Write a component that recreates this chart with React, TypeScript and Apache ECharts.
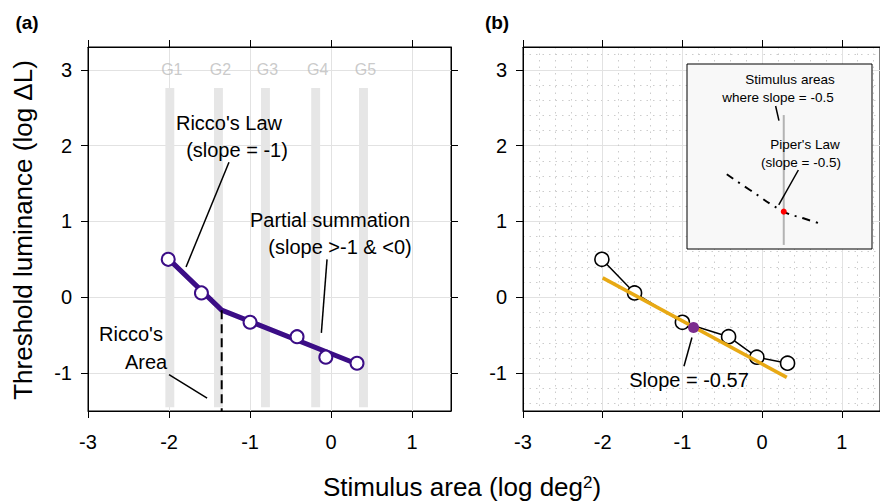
import React, { useEffect, useRef } from "react";
import * as echarts from "echarts";

const FONT = "Liberation Sans";
const INDIGO = "#3b0d86";
const ORANGE = "#e8a914";
const PURPLE = "#7b2d8e";

// axis ticks
const xTicks = [-3, -2, -1, 0, 1];
const yTicks = [-1, 0, 1, 2, 3];

// measured data (log deg^2, log dL)
const stimulusArea = [-2.01, -1.6, -1.0, -0.42, -0.065, 0.32];
const thresholdLum = [0.5, 0.057, -0.33, -0.52, -0.79, -0.87];

// two-limb fit (Ricco's law + partial summation)
const fitArea = [-2.0, -1.35, 0.32];
const fitLum = [0.5, -0.17, -0.88];
const riccoAreaX = -1.35;
const riccoAreaTopY = -0.17;

// ganglion-cell groups
const groupLabels = ["G1", "G2", "G3", "G4", "G5"];
const groupArea = [-1.99, -1.39, -0.81, -0.19, 0.4];
const groupBottom = -1.45;
const groupTop = 2.76;
const groupLabelY = 3;

// panel b linear fit
const slopeFitArea = [-2.0, 0.31];
const slopeFitLum = [0.255, -1.057];
const pivotPoint = [-0.86, -0.4];

// inset (normalised units)
const insetCurveX = [0.215, 0.34, 0.523, 0.629, 0.728];
const insetCurveY = [0.404, 0.319, 0.202, 0.166, 0.135];
const insetMarkerX = 0.523;
const insetMarkerY = 0.202;
const insetBarBottom = 0.022;
const insetBarTop = 0.724;

// annotation leader lines [x1,y1,x2,y2]
const leadersA = [
  [-1.26, 1.78, -1.79, 0.4],
  [-0.05, 0.5, -0.12, -0.47],
  [-2.0, -1.02, -1.53, -1.33],
];
const leadersB = [[-0.88, -0.53, -0.98, -0.91]];
const leadersInset = [
  [0.479, 0.773, 0.497, 0.694],
  [0.602, 0.427, 0.496, 0.238],
];

const minorX: number[] = [];
for (let i = -15; i <= 7; i++) if (i % 5 !== 0) minorX.push(+(i * 0.2).toFixed(1));
const minorY: number[] = [];
for (let i = -7; i <= 16; i++) if (i % 5 !== 0) minorY.push(+(i * 0.2).toFixed(1));

function xAxisDef(gridIndex: number, position: string, labels: boolean, split: boolean) {
  return {
    type: "value",
    gridIndex,
    position,
    min: -3,
    max: 1.48,
    axisLine: { show: true, onZero: false, lineStyle: { color: "#000", width: 1 } },
    axisTick: { show: true, inside: false, length: 7, customValues: xTicks, lineStyle: { color: "#000" } },
    axisLabel: { show: labels, customValues: xTicks, fontSize: 20, color: "#000", margin: 21, fontFamily: FONT },
    splitLine: { show: split, lineStyle: { color: "#e2e2e2", width: 1 } },
  };
}
function yAxisDef(gridIndex: number, position: string, labels: boolean, split: boolean) {
  return {
    type: "value",
    gridIndex,
    position,
    min: -1.5,
    max: 3.3,
    axisLine: { show: true, onZero: false, lineStyle: { color: "#000", width: 1 } },
    axisTick: { show: true, inside: false, length: 7, customValues: yTicks, lineStyle: { color: "#000" } },
    axisLabel: { show: labels, customValues: yTicks, fontSize: 20, color: "#000", margin: 16, fontFamily: FONT },
    splitLine: { show: split, lineStyle: { color: "#e2e2e2", width: 1 } },
  };
}

function leaderSeries(l: number[][], xi: number, yi: number, z: number) {
  return l.map((s) => ({
    type: "line",
    xAxisIndex: xi,
    yAxisIndex: yi,
    data: [
      [s[0], s[1]],
      [s[2], s[3]],
    ],
    symbol: "none",
    lineStyle: { color: "#000", width: 1.5 },
    silent: true,
    z,
  }));
}

function txt(text: string, x: number, y: number, size: number, extra: any = {}) {
  return {
    type: "text",
    x,
    y,
    z: 20,
    silent: true,
    style: {
      text,
      align: "center",
      verticalAlign: "middle",
      fontFamily: FONT,
      fontSize: size,
      fill: "#000",
      ...extra,
    },
  };
}

export default function App() {
  const ref = useRef<HTMLDivElement>(null);
  useEffect(() => {
    if (!ref.current) return;
    const chart = echarts.init(ref.current, undefined, { renderer: "svg" });
    const points = stimulusArea.map((x, i) => [x, thresholdLum[i]]);
    const option: any = {
      animation: false,
      backgroundColor: "#fff",
      textStyle: { fontFamily: FONT },
      grid: [
        { left: 88, top: 47, width: 363, height: 364, show: true, borderColor: "#000", borderWidth: 1 },
        { left: 523, top: 47, width: 363, height: 364, show: true, borderColor: "#000", borderWidth: 1 },
        { left: 687, top: 64, width: 185, height: 185, show: true, backgroundColor: "#f8f8f8", borderColor: "#000", borderWidth: 1, z: 5 },
      ],
      xAxis: [
        xAxisDef(0, "bottom", true, true),
        xAxisDef(0, "top", false, false),
        xAxisDef(1, "bottom", true, true),
        xAxisDef(1, "top", false, false),
        {
          type: "value",
          gridIndex: 1,
          min: -3,
          max: 1.48,
          axisLine: { show: false },
          axisTick: { show: false, customValues: minorX },
          axisLabel: { show: false },
          splitLine: { show: true, lineStyle: { color: "#cccccc", width: 1, type: [1.5, 5] } },
        },
        { type: "value", gridIndex: 2, min: 0, max: 1, show: false },
      ],
      yAxis: [
        yAxisDef(0, "left", true, true),
        yAxisDef(0, "right", false, false),
        yAxisDef(1, "left", true, true),
        {
          type: "value",
          gridIndex: 1,
          min: -1.5,
          max: 3.3,
          axisLine: { show: false },
          axisTick: { show: false, customValues: minorY },
          axisLabel: { show: false },
          splitLine: { show: true, lineStyle: { color: "#cccccc", width: 1, type: [1.5, 5] } },
        },
        { type: "value", gridIndex: 2, min: 0, max: 1, show: false },
      ],
      series: [
        // Panel a
        {
          type: "custom",
          xAxisIndex: 0,
          yAxisIndex: 0,
          z: 1,
          silent: true,
          data: groupArea.map((x) => [x, groupBottom, groupTop]),
          encode: { x: 0, y: [1, 2] },
          renderItem: (params: any, api: any) => {
            const x = api.value(0);
            const top = api.coord([x, api.value(2)]);
            const bot = api.coord([x, api.value(1)]);
            const w = api.size([0.11, 0])[0];
            return {
              type: "rect",
              shape: { x: top[0] - w / 2, y: top[1], width: w, height: bot[1] - top[1] },
              style: { fill: "#e6e6e6" },
            };
          },
        },
        {
          type: "scatter",
          xAxisIndex: 0,
          yAxisIndex: 0,
          z: 1,
          silent: true,
          symbolSize: 1,
          itemStyle: { color: "rgba(0,0,0,0)" },
          data: groupArea.map((x, i) => ({ value: [x, groupLabelY], name: groupLabels[i] })),
          label: { show: true, position: "inside", formatter: "{b}", color: "#bdbdbd", fontSize: 16, fontFamily: FONT, offset: [2, 0] },
        },
        {
          type: "line",
          xAxisIndex: 0,
          yAxisIndex: 0,
          z: 3,
          data: fitArea.map((x, i) => [x, fitLum[i]]),
          symbol: "none",
          lineStyle: { color: INDIGO, width: 5 },
        },
        {
          type: "line",
          xAxisIndex: 0,
          yAxisIndex: 0,
          z: 3,
          data: [
            [riccoAreaX, riccoAreaTopY],
            [riccoAreaX, -1.5],
          ],
          symbol: "none",
          lineStyle: { color: "#000", width: 2, type: [9, 5] },
        },
        {
          type: "scatter",
          xAxisIndex: 0,
          yAxisIndex: 0,
          z: 4,
          data: points,
          symbolSize: 13,
          itemStyle: { color: "#fff", opacity: 1, borderColor: INDIGO, borderWidth: 2 },
        },
        ...leaderSeries(leadersA, 0, 0, 4),
        // Panel b
        {
          type: "line",
          xAxisIndex: 2,
          yAxisIndex: 2,
          z: 2,
          data: points,
          symbol: "none",
          lineStyle: { color: "#000", width: 1.5 },
        },
        {
          type: "scatter",
          xAxisIndex: 2,
          yAxisIndex: 2,
          z: 3,
          data: points,
          symbolSize: 14,
          itemStyle: { color: "#fff", opacity: 1, borderColor: "#000", borderWidth: 1.6 },
        },
        {
          type: "line",
          xAxisIndex: 2,
          yAxisIndex: 2,
          z: 4,
          data: slopeFitArea.map((x, i) => [x, slopeFitLum[i]]),
          symbol: "none",
          lineStyle: { color: ORANGE, width: 3.5 },
        },
        {
          type: "scatter",
          xAxisIndex: 2,
          yAxisIndex: 2,
          z: 5,
          data: [pivotPoint],
          symbolSize: 11,
          itemStyle: { color: PURPLE, opacity: 1 },
        },
        ...leaderSeries(leadersB, 2, 2, 5),
        // Inset
        {
          type: "line",
          xAxisIndex: 5,
          yAxisIndex: 4,
          z: 10,
          data: [
            [insetMarkerX, insetBarBottom],
            [insetMarkerX, insetBarTop],
          ],
          symbol: "none",
          lineStyle: { color: "#b3b3b3", width: 2 },
        },
        {
          type: "line",
          xAxisIndex: 5,
          yAxisIndex: 4,
          z: 11,
          smooth: true,
          data: insetCurveX.map((x, i) => [x, insetCurveY[i]]),
          symbol: "none",
          lineStyle: { color: "#000", width: 2, type: [8, 6, 2, 6] },
        },
        {
          type: "scatter",
          xAxisIndex: 5,
          yAxisIndex: 4,
          z: 12,
          data: [[insetMarkerX, insetMarkerY]],
          symbolSize: 6,
          itemStyle: { color: "#ff0000", opacity: 1 },
        },
        ...leaderSeries(leadersInset, 5, 4, 12),
      ],
      graphic: [
        txt("(a)", 27, 22, 19, { fontWeight: "bold" }),
        txt("(b)", 497, 22, 19, { fontWeight: "bold" }),
        txt("Ricco's Law", 229, 123, 20),
        txt("(slope = -1)", 237, 150, 20),
        txt("Partial summation", 330, 220, 20),
        txt("(slope >-1 & <0)", 340, 247, 20),
        txt("Ricco's", 131, 334, 20),
        txt("Area", 146, 362, 20),
        txt("Slope = -0.57", 689, 380, 20),
        txt("Stimulus areas", 790, 79, 13.5),
        txt("where slope = -0.5", 778, 97, 13.5),
        txt("Piper's Law", 805, 144, 13.5),
        txt("(slope = -0.5)", 801, 162, 13.5),
        {
          type: "text",
          x: 23,
          y: 230,
          z: 20,
          rotation: Math.PI / 2,
          silent: true,
          style: {
            text: "Threshold luminance (log \u0394L)",
            align: "center",
            verticalAlign: "middle",
            fontFamily: FONT,
            fontSize: 26,
            fill: "#000",
          },
        },
        {
          type: "text",
          x: 462,
          y: 487,
          z: 20,
          silent: true,
          style: {
            text: "Stimulus area (log deg{sup|2})",
            align: "center",
            verticalAlign: "middle",
            fontFamily: FONT,
            fontSize: 26,
            fill: "#000",
            rich: { sup: { fontSize: 17, fontFamily: FONT, verticalAlign: "top", fill: "#000" } },
          },
        },
      ],
    };
    chart.setOption(option);
    return () => chart.dispose();
  }, []);
  return <div ref={ref} style={{ position: "fixed", left: 0, top: 0, width: 880, height: 502 }} />;
}
